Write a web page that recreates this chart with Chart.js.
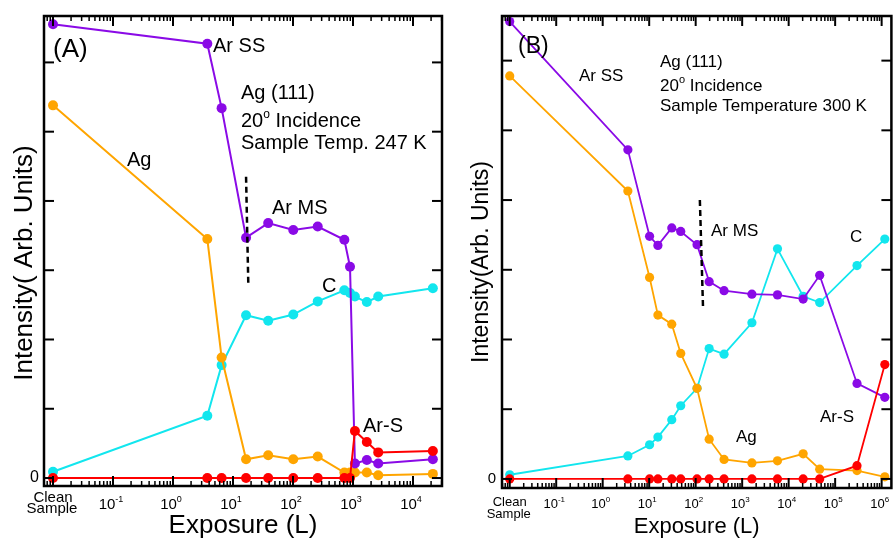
<!DOCTYPE html>
<html>
<head>
<meta charset="utf-8">
<script src="https://cdn.jsdelivr.net/npm/chart.js@4/dist/chart.umd.min.js"></script>
<style>
    html, body { margin: 0; padding: 0; background: #ffffff; }
    #contenedor { position: relative; width: 896px; height: 538px; }
    canvas { position: absolute; top: 0; }
    #panelA { left: 0; }
    #panelB { left: 448px; }
</style>
</head>
<body>
<div id="contenedor">
    <canvas id="panelA" width="448" height="538"></canvas>
    <canvas id="panelB" width="448" height="538"></canvas>
</div>
<script>
/* ===============================
   DATOS (A) - 247 K
================================= */
// la muestra limpia se coloca en 1e-2 L
const exposicionA = [0.01, 3.73, 6.46, 16.5, 38.6, 101, 258, 717, 891, 1076, 1700, 2630, 21400];
const arSS_A   = [6.55, 6.27, 5.34, 3.47, 3.68, 3.58, 3.63, 3.44, 3.05, 0.21, 0.26, 0.21, 0.27];
const plataA   = [5.38, 3.45, 1.74, 0.27, 0.33, 0.27, 0.31, 0.08, 0.08, 0.08, 0.08, 0.04, 0.06];
const carbonoA = [0.09, 0.90, 1.63, 2.35, 2.27, 2.36, 2.55, 2.71, 2.67, 2.62, 2.54, 2.62, 2.74];
const arS_A    = [0, 0, 0, 0, 0, 0, 0, 0, 0, 0.68, 0.52, 0.37, 0.39];
const guiaA_x  = [16.5, 18];
const guiaA_y  = [4.35, 2.78];
const decadasA = [-1, 0, 1, 2, 3, 4];

/* ===============================
   DATOS (B) - 300 K
================================= */
const exposicionB = [0.01, 3.48, 10.2, 15.4, 30.6, 47.7, 107, 195, 408, 1620, 5750, 20500, 46500, 295000, 1170000];
const arSS_B   = [6.56, 4.72, 3.48, 3.35, 3.60, 3.55, 3.36, 2.83, 2.70, 2.65, 2.64, 2.58, 2.92, 1.37, 1.17];
const plataB   = [5.78, 4.13, 2.89, 2.35, 2.22, 1.80, 1.30, 0.57, 0.28, 0.23, 0.26, 0.36, 0.14, 0.12, 0.03];
const carbonoB = [0.06, 0.33, 0.49, 0.60, 0.85, 1.05, 1.30, 1.87, 1.79, 2.24, 3.30, 2.62, 2.53, 3.06, 3.44];
const arS_B    = [0, 0, 0, 0, 0, 0, 0, 0, 0, 0, 0, 0, 0, 0.19, 1.64];
const guiaB_x  = [123, 144];
const guiaB_y  = [4.0, 2.45];
const decadasB = [-1, 0, 1, 2, 3, 4, 5, 6];

const muestraLimpia = 0.01;

const FUENTE = "'Liberation Sans', Arial, sans-serif";
const MORADO = "#8a0ae6";
const NARANJA = "#ffa500";
const CIAN = "#12e6ee";
const ROJO = "#ff0000";

function puntos(xs, ys) {
    return xs.map((x, i) => ({ x: x, y: ys[i] }));
}

function serie(xs, ys, color, radio, ancho, orden) {
    return {
        data: puntos(xs, ys),
        borderColor: color,
        backgroundColor: color,
        pointBackgroundColor: color,
        pointBorderColor: color,
        pointBorderWidth: 0,
        pointRadius: radio,
        borderWidth: ancho,
        tension: 0,
        order: orden
    };
}

function guia(xs, ys) {
    return {
        data: puntos(xs, ys),
        borderColor: "#000000",
        borderWidth: 2.5,
        borderDash: [6, 4],
        pointRadius: 0,
        order: 0
    };
}

/* ===============================
   TEXTO CON SUPERINDICES
================================= */
function escribir(ctx, partes, x, y, f, alinear) {
    let ancho = 0;
    partes.forEach(p => {
        ctx.font = (p.sup ? Math.round(f * 0.62) : f) + "px " + FUENTE;
        ancho += ctx.measureText(p.t).width;
    });
    let cx = alinear === "center" ? x - ancho / 2 : x;
    partes.forEach(p => {
        ctx.font = (p.sup ? Math.round(f * 0.62) : f) + "px " + FUENTE;
        ctx.fillText(p.t, cx, p.sup ? y - f * 0.45 : y);
        cx += ctx.measureText(p.t).width;
    });
}

/* ===============================
   MARCO, MARCAS Y ETIQUETAS
================================= */
const marcoPlugin = {
    id: "marco",
    afterDraw(chart, args, op) {
        const ctx = chart.ctx;
        const a = chart.chartArea;
        const sx = chart.scales.x;
        const sy = chart.scales.y;

        ctx.save();
        ctx.strokeStyle = "#000000";
        ctx.fillStyle = "#000000";
        ctx.lineCap = "butt";

        function linea(x1, y1, x2, y2) {
            ctx.beginPath();
            ctx.moveTo(x1, y1);
            ctx.lineTo(x2, y2);
            ctx.stroke();
        }

        // marcas del eje y, hacia dentro en ambos lados
        ctx.lineWidth = 2;
        sy.ticks.forEach(t => {
            const py = sy.getPixelForValue(t.value);
            linea(a.left, py, a.left + 10, py);
            linea(a.right, py, a.right - 10, py);
        });

        // marcas logaritmicas arriba y abajo
        const eMin = Math.floor(Math.log10(sx.min));
        const eMax = Math.ceil(Math.log10(sx.max));
        for (let e = eMin; e <= eMax; e++) {
            for (let m = 1; m <= 9; m++) {
                const v = m * Math.pow(10, e);
                if (v < sx.min || v > sx.max) continue;
                const px = sx.getPixelForValue(v);
                const l = m === 1 ? 10 : 5;
                ctx.lineWidth = m === 1 ? 2 : 1.5;
                linea(px, a.top, px, a.top + l);
                linea(px, a.bottom, px, a.bottom - l);
            }
        }

        ctx.lineWidth = 2.5;
        ctx.strokeRect(a.left, a.top, a.right - a.left, a.bottom - a.top);

        // etiquetas del eje x
        ctx.textBaseline = "alphabetic";
        ctx.textAlign = "left";
        op.decadas.forEach(e => {
            const px = sx.getPixelForValue(Math.pow(10, e));
            const exp = e < 0 ? "-" + Math.abs(e) : String(e);
            escribir(ctx, [{ t: "10" }, { t: exp, sup: true }], px - 2, op.yDecada, op.fTick, "center");
        });
        const pl = sx.getPixelForValue(muestraLimpia);
        escribir(ctx, [{ t: "Clean" }], pl, op.yClean, op.fTick, "center");
        escribir(ctx, [{ t: "Sample" }], pl - 1, op.ySample, op.fTick, "center");

        // titulos de los ejes
        escribir(ctx, [{ t: "Exposure (L)" }], (a.left + a.right) / 2, op.yTituloX, op.fTitulo, "center");
        ctx.save();
        ctx.translate(op.xTituloY, op.cTituloY);
        ctx.rotate(-Math.PI / 2);
        escribir(ctx, [{ t: op.tituloY }], 0, 0, op.fTituloY, "center");
        ctx.restore();

        // anotaciones dentro del grafico
        op.textos.forEach(t => {
            escribir(ctx, t.partes, t.x, t.y, t.f, "left");
        });

        ctx.restore();
    }
};

/* ===============================
   CREAR UN PANEL
================================= */
function crearPanel(id, c) {
    const ctx = document.getElementById(id).getContext("2d");
    return new Chart(ctx, {
        type: "line",
        data: { datasets: c.series },
        options: {
            responsive: false,
            animation: false,
            events: [],
            layout: { padding: { top: 16, right: c.derecha, left: 0, bottom: 0 } },
            plugins: {
                legend: { display: false },
                tooltip: { enabled: false },
                marco: c.marco
            },
            scales: {
                x: {
                    type: "logarithmic",
                    min: c.xMin,
                    max: c.xMax,
                    grid: { display: false, drawTicks: false },
                    border: { display: false },
                    ticks: { display: false },
                    afterFit: s => { s.height = c.altoX; }
                },
                y: {
                    type: "linear",
                    min: c.yMin,
                    max: c.yMax,
                    grid: { display: false, drawTicks: false },
                    border: { display: false },
                    ticks: {
                        stepSize: 1,
                        includeBounds: false,
                        padding: c.sepCero,
                        color: "#000000",
                        font: { family: FUENTE, size: c.fCero },
                        callback: v => (v === 0 ? "0" : "")
                    },
                    afterFit: s => { s.width = c.anchoY; }
                }
            }
        },
        plugins: [marcoPlugin]
    });
}

const inc = () => [{ t: "20" }, { t: "o", sup: true }, { t: " Incidence" }];

crearPanel("panelA", {
    series: [
        serie(exposicionA, arS_A, ROJO, 5, 2, 1),
        serie(exposicionA, arSS_A, MORADO, 5, 2, 2),
        serie(exposicionA, plataA, NARANJA, 5, 2, 3),
        serie(exposicionA, carbonoA, CIAN, 5, 2, 4),
        guia(guiaA_x, guiaA_y)
    ],
    xMin: Math.pow(10, -2.15),
    xMax: Math.pow(10, 4.483),
    yMin: -0.115,
    yMax: 6.67,
    derecha: 6,
    altoX: 52,
    anchoY: 44,
    fCero: 16,
    sepCero: 5,
    marco: {
        decadas: decadasA,
        fTick: 15,
        yDecada: 509,
        yClean: 502,
        ySample: 513,
        fTitulo: 26,
        yTituloX: 533,
        tituloY: "Intensity( Arb. Units)",
        fTituloY: 26,
        xTituloY: 32,
        cTituloY: 263,
        textos: [
            { partes: [{ t: "(A)" }], x: 53, y: 57, f: 26 },
            { partes: [{ t: "Ar SS" }], x: 213, y: 52, f: 20 },
            { partes: [{ t: "Ag (111)" }], x: 241, y: 99, f: 20 },
            { partes: inc(), x: 241, y: 127, f: 20 },
            { partes: [{ t: "Sample Temp. 247 K" }], x: 241, y: 149, f: 20 },
            { partes: [{ t: "Ag" }], x: 127, y: 166, f: 20 },
            { partes: [{ t: "Ar MS" }], x: 272, y: 214, f: 20 },
            { partes: [{ t: "C" }], x: 322, y: 292, f: 20 },
            { partes: [{ t: "Ar-S" }], x: 363, y: 432, f: 20 }
        ]
    }
});

crearPanel("panelB", {
    series: [
        serie(exposicionB, arS_B, ROJO, 4.6, 1.8, 1),
        serie(exposicionB, arSS_B, MORADO, 4.6, 1.8, 2),
        serie(exposicionB, plataB, NARANJA, 4.6, 1.8, 3),
        serie(exposicionB, carbonoB, CIAN, 4.6, 1.8, 4),
        guia(guiaB_x, guiaB_y)
    ],
    xMin: Math.pow(10, -2.166),
    xMax: Math.pow(10, 6.21),
    yMin: -0.13,
    yMax: 6.64,
    derecha: 1,
    altoX: 50,
    anchoY: 54,
    fCero: 15,
    sepCero: 6,
    marco: {
        decadas: decadasB,
        fTick: 13,
        yDecada: 508,
        yClean: 506,
        ySample: 518,
        fTitulo: 22,
        yTituloX: 533,
        tituloY: "Intensity(Arb. Units)",
        fTituloY: 23,
        xTituloY: 40,
        cTituloY: 262,
        textos: [
            { partes: [{ t: "(B)" }], x: 70, y: 53, f: 23 },
            { partes: [{ t: "Ar SS" }], x: 131, y: 81, f: 17 },
            { partes: [{ t: "Ag (111)" }], x: 212, y: 67, f: 17 },
            { partes: inc(), x: 212, y: 91, f: 17 },
            { partes: [{ t: "Sample Temperature 300 K" }], x: 212, y: 111, f: 17 },
            { partes: [{ t: "Ar MS" }], x: 263, y: 236, f: 17 },
            { partes: [{ t: "C" }], x: 402, y: 242, f: 17 },
            { partes: [{ t: "Ag" }], x: 288, y: 442, f: 17 },
            { partes: [{ t: "Ar-S" }], x: 372, y: 422, f: 17 }
        ]
    }
});
</script>
</body>
</html>
